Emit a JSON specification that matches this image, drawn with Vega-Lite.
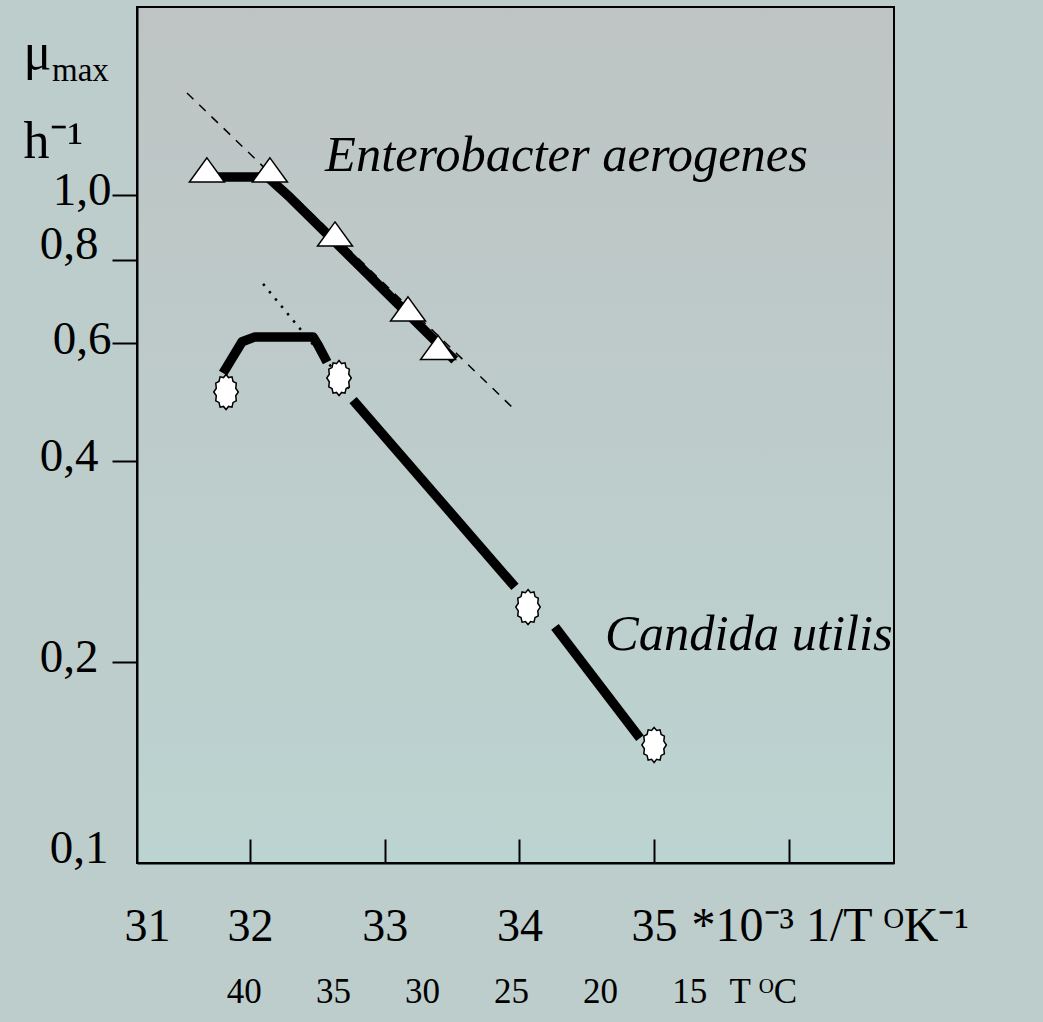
{
  "$schema": "https://vega.github.io/schema/vega-lite/v6.json",
  "width": 757,
  "height": 856,
  "autosize": {"type": "none"},
  "padding": {"left": 137, "top": 7, "right": 149, "bottom": 159},
  "background": "#bdcdcb",
  "title": {"text": "max", "anchor": "start", "frame": "group", "orient": "top", "offset": 0, "dx": -85, "dy": 107, "baseline": "alphabetic", "font": "Liberation Serif", "fontSize": 33, "fontWeight": "normal", "color": "#000000"},
  "config": {
    "font": "Liberation Serif",
    "view": {"stroke": "#000000", "strokeWidth": 2, "fill": {"gradient": "linear", "x1": 0, "y1": 0, "x2": 0, "y2": 1, "stops": [{"offset": 0, "color": "#bec4c4"}, {"offset": 1, "color": "#bcd4d1"}]}},
    "axis": {"grid": false, "domainColor": "#000000", "domainWidth": 2, "tickColor": "#000000", "tickWidth": 2, "labelColor": "#000000", "labelFont": "Liberation Serif", "titleColor": "#000000", "titleFont": "Liberation Serif", "titleFontWeight": "normal"}
  },
  "datasets": {
    "lines": [
      {"kind": "dashed", "seg": "Ed", "invT": 31.532, "mu": 1.421},
      {"kind": "dashed", "seg": "Ed", "invT": 33.967, "mu": 0.4766},
      {"kind": "dotted", "seg": "Cd", "invT": 32.097, "mu": 0.736},
      {"kind": "dotted", "seg": "Cd", "invT": 32.757, "mu": 0.507},
      {"kind": "thick", "seg": "E", "invT": 31.68, "mu": 1.064},
      {"kind": "thick", "seg": "E", "invT": 32.13, "mu": 1.064},
      {"kind": "thick", "seg": "E", "invT": 32.3, "mu": 0.99},
      {"kind": "thick", "seg": "E", "invT": 33.52, "mu": 0.566},
      {"kind": "thick", "seg": "CA", "invT": 31.8, "mu": 0.541},
      {"kind": "thick", "seg": "CA", "invT": 31.941, "mu": 0.603},
      {"kind": "thick", "seg": "CA", "invT": 32.037, "mu": 0.613},
      {"kind": "thick", "seg": "CA", "invT": 32.468, "mu": 0.613},
      {"kind": "thick", "seg": "CA", "invT": 32.505, "mu": 0.596},
      {"kind": "thick", "seg": "CA", "invT": 32.572, "mu": 0.562},
      {"kind": "thick", "seg": "CB", "invT": 32.765, "mu": 0.493},
      {"kind": "thick", "seg": "CB", "invT": 33.967, "mu": 0.259},
      {"kind": "thick", "seg": "CC", "invT": 34.264, "mu": 0.2256},
      {"kind": "thick", "seg": "CC", "invT": 34.895, "mu": 0.1538}
    ],
    "points": [
      {"species": "Enterobacter aerogenes", "invT": 31.68, "mu": 1.09},
      {"species": "Enterobacter aerogenes", "invT": 32.148, "mu": 1.09},
      {"species": "Enterobacter aerogenes", "invT": 32.631, "mu": 0.874},
      {"species": "Enterobacter aerogenes", "invT": 33.173, "mu": 0.675},
      {"species": "Enterobacter aerogenes", "invT": 33.396, "mu": 0.591},
      {"species": "Candida utilis", "invT": 31.822, "mu": 0.507},
      {"species": "Candida utilis", "invT": 32.661, "mu": 0.532},
      {"species": "Candida utilis", "invT": 34.064, "mu": 0.2416},
      {"species": "Candida utilis", "invT": 35.0, "mu": 0.1502}
    ],
    "labels": [
      {"text": "Enterobacter aerogenes", "invT": 32.557, "mu": 1.086},
      {"text": "Candida utilis", "invT": 34.636, "mu": 0.2084}
    ],
    "celsius": [
      {"C": 40}, {"C": 35}, {"C": 30}, {"C": 25}, {"C": 20}, {"C": 15}
    ]
  },
  "layer": [
    {
      "layer": [
        {
          "data": {"name": "lines"},
          "transform": [{"filter": "datum.kind === 'dashed'"}],
          "mark": {"type": "line", "color": "#000000", "strokeWidth": 1.5, "strokeDash": [9, 8], "clip": false},
          "encoding": {
            "detail": {"field": "seg"},
            "x": {
              "field": "invT", "type": "quantitative",
              "scale": {"domain": [31.161, 36.781], "nice": false, "zero": false},
              "axis": {
                "values": [31.235, 32, 33, 34, 35, 36],
                "labelExpr": "datum.value < 31.5 ? '31' : (datum.value > 35.5 ? '' : format(datum.value, 'd'))",
                "tickSize": -24,
                "tickOpacity": {"condition": {"test": "datum.value < 31.5", "value": 0}, "value": 1},
                "labelFontSize": 46,
                "labelPadding": 101,
                "labelBaseline": "alphabetic",
                "labelFlush": false,
                "labelOverlap": false,
                "title": "*10⁻³ 1/T ᴼK⁻¹",
                "titleFontSize": 48,
                "titleAnchor": "start",
                "titleAlign": "left",
                "titleBaseline": "alphabetic",
                "titleX": 554,
                "titleY": 77
              }
            },
            "y": {
              "field": "mu", "type": "quantitative",
              "scale": {"type": "log", "domain": [0.1, 1.911], "nice": false, "zero": false},
              "axis": {
                "values": [0.1, 0.2, 0.4, 0.6, 0.8, 1.0],
                "labelExpr": "replace(format(datum.value, '.1f'), '.', ',')",
                "tickSize": 25,
                "tickOpacity": {"condition": {"test": "datum.value < 0.15", "value": 0}, "value": 1},
                "labelFontSize": 47,
                "labelPadding": {"condition": [{"test": "datum.value > 0.95 || (datum.value > 0.55 && datum.value < 0.65)", "value": 1}, {"test": "datum.value < 0.15", "value": 4}], "value": 14},
                "labelBaseline": "middle",
                "labelOffset": {"condition": {"test": "datum.value < 0.15 || (datum.value > 0.7 && datum.value < 0.9)", "value": -15}, "value": -4},
                "labelFlush": false,
                "labelOverlap": false,
                "title": ["μ", "h⁻¹"],
                "titleAngle": 0,
                "titleAlign": "left",
                "titleAnchor": "start",
                "titleBaseline": "alphabetic",
                "titleX": -114,
                "titleY": 61,
                "titleFontSize": 52,
                "titleLineHeight": 89
              }
            }
          }
        },
        {
          "data": {"name": "lines"},
          "transform": [{"filter": "datum.kind === 'dotted'"}],
          "mark": {"type": "line", "color": "#000000", "strokeWidth": 2.5, "strokeDash": [2.5, 7], "clip": false},
          "encoding": {
            "detail": {"field": "seg"},
            "x": {"field": "invT", "type": "quantitative"},
            "y": {"field": "mu", "type": "quantitative"}
          }
        },
        {
          "data": {"name": "lines"},
          "transform": [{"filter": "datum.kind === 'thick'"}],
          "mark": {"type": "line", "color": "#000000", "strokeWidth": 9.5, "strokeJoin": "round", "strokeCap": "butt", "clip": false},
          "encoding": {
            "detail": {"field": "seg"},
            "x": {"field": "invT", "type": "quantitative"},
            "y": {"field": "mu", "type": "quantitative"}
          }
        },
        {
          "data": {"name": "points"},
          "transform": [{"filter": "datum.species === 'Enterobacter aerogenes'"}],
          "mark": {"type": "point", "filled": true, "fill": "#ffffff", "stroke": "#000000", "strokeWidth": 1.5, "opacity": 1, "size": 1225, "shape": "M0,-0.69L1,0.69L-1,0.69Z"},
          "encoding": {
            "x": {"field": "invT", "type": "quantitative"},
            "y": {"field": "mu", "type": "quantitative"}
          }
        },
        {
          "data": {"name": "points"},
          "transform": [{"filter": "datum.species === 'Candida utilis'"}],
          "mark": {"type": "point", "filled": true, "fill": "#ffffff", "stroke": "#000000", "strokeWidth": 1.5, "opacity": 1, "size": 1300, "shape": "M0,-0.97L0.14,-0.8L0.33,-0.84L0.39,-0.58L0.57,-0.49L0.54,-0.21L0.68,0L0.54,0.21L0.57,0.49L0.39,0.58L0.33,0.84L0.14,0.8L0,0.97L-0.14,0.8L-0.33,0.84L-0.39,0.58L-0.57,0.49L-0.54,0.21L-0.68,0L-0.54,-0.21L-0.57,-0.49L-0.39,-0.58L-0.33,-0.84L-0.14,-0.8Z"},
          "encoding": {
            "x": {"field": "invT", "type": "quantitative"},
            "y": {"field": "mu", "type": "quantitative"}
          }
        },
        {
          "data": {"name": "labels"},
          "mark": {"type": "text", "font": "Liberation Serif", "fontStyle": "italic", "fontSize": 50.5, "align": "left", "baseline": "alphabetic", "color": "#000000"},
          "encoding": {
            "x": {"field": "invT", "type": "quantitative"},
            "y": {"field": "mu", "type": "quantitative"},
            "text": {"field": "text"}
          }
        }
      ]
    },
    {
      "data": {"name": "celsius"},
      "mark": {"type": "point", "opacity": 0},
      "encoding": {
        "x": {
          "field": "C", "type": "quantitative",
          "scale": {"domain": [3.5, 46.0], "reverse": true, "nice": false, "zero": false},
          "axis": {
            "orient": "bottom",
            "values": [40, 35, 30, 25, 20, 15],
            "domain": false,
            "ticks": false,
            "tickSize": 0,
            "labelFontSize": 35,
            "labelPadding": 139,
            "labelBaseline": "alphabetic",
            "labelFlush": false,
            "labelOverlap": false,
            "title": "T ᴼC",
            "titleFontSize": 35,
            "titleAnchor": "start",
            "titleAlign": "left",
            "titleBaseline": "alphabetic",
            "titleX": 592,
            "titleY": 139
          }
        }
      }
    }
  ],
  "resolve": {"scale": {"x": "independent"}}
}
